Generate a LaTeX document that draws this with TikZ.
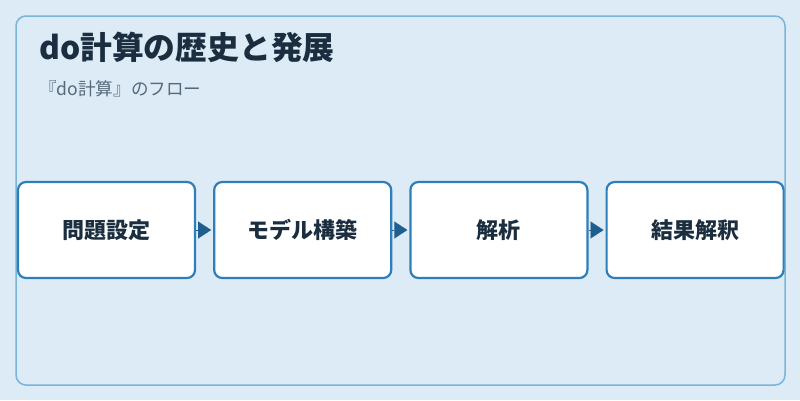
\documentclass[tikz,border=0pt]{standalone}
\usepackage{fontspec}
\setmainfont{Noto Sans CJK JP}
\usetikzlibrary{positioning,arrows.meta}
\definecolor{bgblue}{HTML}{DCEBF6}
\definecolor{frameblue}{HTML}{7AB4D6}
\definecolor{boxblue}{HTML}{2E7FB8}
\definecolor{arrowblue}{HTML}{1F5F8F}
\definecolor{titleink}{HTML}{1B2E3F}
\definecolor{subink}{HTML}{56697A}

\tikzset{%
  >={Triangle[length=13pt,width=17pt]},
  stepbox/.style={draw=boxblue, line width=2.2pt, fill=white, rounded corners=8pt,
    minimum width=177pt, minimum height=96pt, inner sep=0pt,
    font=\bfseries\fontsize{22pt}{24pt}\selectfont, text=titleink},
  flow/.style={->, draw=arrowblue, fill=arrowblue, line width=0.1pt, shorten >=2pt}
}

\begin{document}
\begin{tikzpicture}[x=1pt, y=-1pt]
     \fill[bgblue] (0,0) rectangle (800,400);
     \useasboundingbox (0,0) rectangle (800,400);
     \draw[frameblue, line width=1.5pt, rounded corners=10pt] (16,16) rectangle (785,385);

     \node[anchor=west, inner sep=0pt, text=titleink, font=\bfseries\fontsize{31.8pt}{34pt}\selectfont] (title) at (39,47) {do計算の歴史と発展};
     \node[anchor=west, inner sep=0pt, text=subink, font=\fontsize{17.6pt}{19pt}\selectfont] (subtitle) at (39,89) {『do計算』のフロー};

     \node[stepbox] (problem) at (106.5,230) {問題設定};
     \node[stepbox, right=17pt of problem] (model) {モデル構築};
     \node[stepbox, right=17pt of model] (analysis) {解析};
     \node[stepbox, right=17pt of analysis] (result) {結果解釈};

     \foreach \a/\b in {problem/model, model/analysis, analysis/result}
       \draw[flow] (\a.east) -- (\b.west);

\end{tikzpicture}
\end{document}
